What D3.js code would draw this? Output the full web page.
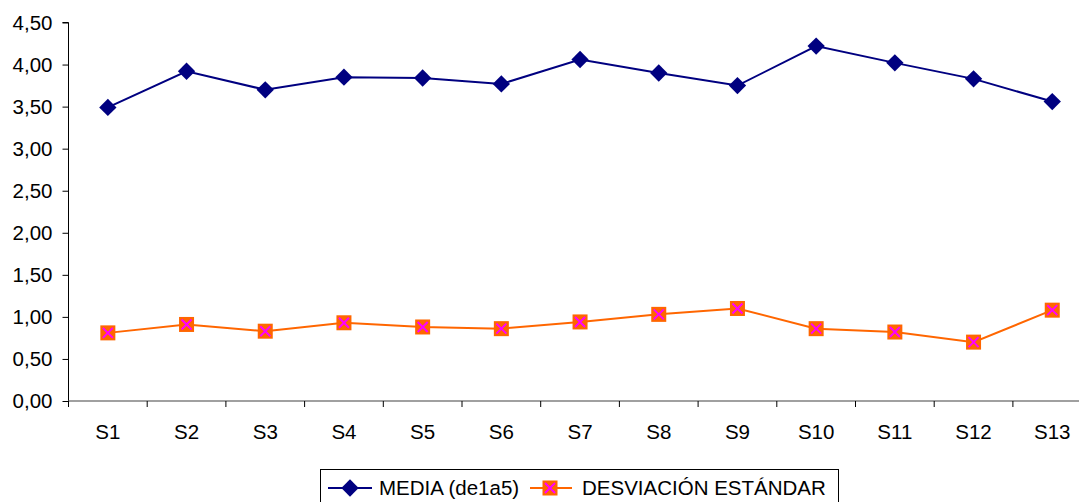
<!DOCTYPE html>
<html>
<head>
<meta charset="utf-8">
<script src="https://cdn.jsdelivr.net/npm/d3@7"></script>
<style>
  html, body { margin: 0; padding: 0; background: #fff; }
  svg { display: block; font-family: "Liberation Sans", Arial, sans-serif; }
</style>
</head>
<body>
<svg id="chart" width="1079" height="502"></svg>
<script>
const categories = ["S1","S2","S3","S4","S5","S6","S7","S8","S9","S10","S11","S12","S13"];
const media = [3.49, 3.92, 3.70, 3.85, 3.84, 3.77, 4.06, 3.90, 3.75, 4.22, 4.02, 3.83, 3.56];
const desviacion = [0.81, 0.91, 0.83, 0.93, 0.88, 0.86, 0.94, 1.03, 1.10, 0.86, 0.82, 0.70, 1.08];
const yTicks = [0, 0.5, 1, 1.5, 2, 2.5, 3, 3.5, 4, 4.5];
const seriesNames = ["MEDIA (de1a5)", "DESVIACIÓN ESTÁNDAR"];

const svg = d3.select("#chart");
const plotLeft = 68.5, plotTop = 22.5, plotBottom = 401, bandW = 78.7;
const fontSize = 20.5;

const x = d3.scaleBand().domain(categories).range([plotLeft, plotLeft + bandW * categories.length]);
const y = d3.scaleLinear().domain([0, 4.5]).range([plotBottom, plotTop]);
const fmt = v => d3.format(".2f")(v).replace(".", ",");

// y axis
const yAxis = svg.append("g").attr("transform", `translate(${plotLeft},0)`)
  .call(d3.axisLeft(y).tickValues(yTicks).tickFormat(fmt).tickSize(6).tickPadding(10));
yAxis.select(".domain").attr("stroke", "#000").attr("d", `M-6,${plotTop}H0V${plotBottom}`);
yAxis.selectAll(".tick line").attr("stroke", "#000");
yAxis.selectAll(".tick text").attr("font-size", fontSize).attr("fill", "#000")
  .attr("font-family", "Liberation Sans, Arial, sans-serif");

// x axis: tick marks between categories
const xAxis = svg.append("g").attr("transform", `translate(0,${plotBottom})`);
xAxis.append("line").attr("x1", plotLeft).attr("x2", 1079).attr("y1", 0).attr("y2", 0)
  .attr("stroke", "#808080").attr("stroke-width", 1.5);
xAxis.selectAll("line.tk").data(categories).join("line").attr("class", "tk")
  .attr("x1", d => x(d)).attr("x2", d => x(d)).attr("y1", 0).attr("y2", 6)
  .attr("stroke", "#000");
xAxis.selectAll("text").data(categories).join("text")
  .attr("x", d => x(d) + x.bandwidth() / 2).attr("y", 38)
  .attr("text-anchor", "middle").attr("font-size", fontSize).text(d => d);

const cx = d => x(d) + x.bandwidth() / 2;
const line = d3.line().x((d, i) => cx(categories[i])).y(d => y(d));

// MEDIA series
svg.append("path").datum(media).attr("d", line)
  .attr("fill", "none").attr("stroke", "#000080").attr("stroke-width", 2);
const diamond = d3.symbol().type(d3.symbolSquare).size(150);
svg.selectAll("path.md").data(media).join("path").attr("class", "md")
  .attr("d", diamond)
  .attr("transform", (d, i) => `translate(${cx(categories[i])},${y(d)}) rotate(45)`)
  .attr("fill", "#000080");

// DESVIACIÓN series
svg.append("path").datum(desviacion).attr("d", line)
  .attr("fill", "none").attr("stroke", "#FF6600").attr("stroke-width", 2);
const sq = svg.selectAll("g.dv").data(desviacion).join("g").attr("class", "dv")
  .attr("transform", (d, i) => `translate(${cx(categories[i])},${y(d)})`);
function drawSquareX(g) {
  g.append("rect").attr("x", -7.5).attr("y", -7.5).attr("width", 15).attr("height", 15).attr("fill", "#FF6600");
  g.append("path").attr("d", "M-5,-5L5,5M-5,5L5,-5").attr("stroke", "#FF00FF").attr("stroke-width", 2);
}
sq.call(drawSquareX);

// legend
const lg = svg.append("g");
lg.append("rect").attr("x", 320.5).attr("y", 469.5).attr("width", 518).attr("height", 40)
  .attr("fill", "#fff").attr("stroke", "#000");
const ly = 488;
lg.append("line").attr("x1", 328).attr("x2", 372).attr("y1", ly).attr("y2", ly)
  .attr("stroke", "#000080").attr("stroke-width", 2);
lg.append("path").attr("d", diamond).attr("transform", `translate(350,${ly}) rotate(45)`).attr("fill", "#000080");
lg.append("text").attr("x", 379).attr("y", ly + 7).attr("font-size", fontSize).text(seriesNames[0]);
lg.append("line").attr("x1", 530).attr("x2", 572).attr("y1", ly).attr("y2", ly)
  .attr("stroke", "#FF6600").attr("stroke-width", 2);
lg.append("g").attr("transform", `translate(550,${ly})`).call(drawSquareX);
lg.append("text").attr("x", 582).attr("y", ly + 7).attr("font-size", fontSize).text(seriesNames[1]);
</script>
</body>
</html>
